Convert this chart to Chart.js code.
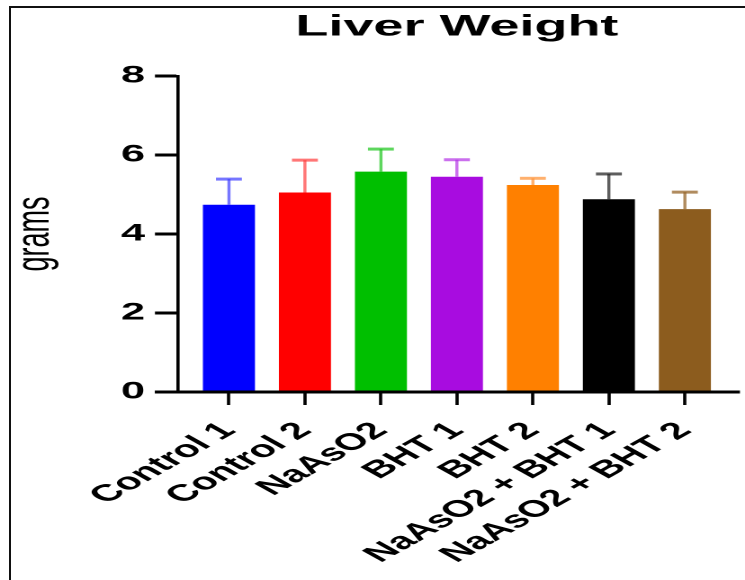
<!DOCTYPE html>
<html>
<head>
<meta charset="utf-8">
<script src="https://cdn.jsdelivr.net/npm/chart.js@4.4.1/dist/chart.umd.min.js"></script>
<style>
    html, body { margin: 0; padding: 0; background: #fff; }
    #page { position: relative; width: 745px; height: 580px; overflow: hidden; }
    #frame {
        position: absolute; left: 9px; top: 6px; right: -10px; bottom: -10px;
        border-left: 2px solid #111; border-top: 2px solid #111;
    }
    /* the source picture is stretched sideways, so the chart is drawn narrow and widened */
    #wrap { position: absolute; left: 0; top: 0; width: 414px; height: 580px; transform: scaleX(1.7995); transform-origin: 0 0; }
</style>
</head>
<body>
<div id="page">
    <div id="frame"></div>
    <div id="wrap"><canvas id="liverChart" width="414" height="580"></canvas></div>
</div>
<script>
// data
const categories = ['Control 1', 'Control 2', 'NaAsO2', 'BHT 1', 'BHT 2', 'NaAsO2 + BHT 1', 'NaAsO2 + BHT 2'];
const means = [4.74, 5.05, 5.58, 5.45, 5.24, 4.88, 4.63];
const errors = [0.65, 0.82, 0.57, 0.43, 0.17, 0.64, 0.43];
const yTicks = [0, 2, 4, 6, 8];
const barColors = ['#0000ff', '#ff0000', '#00bf00', '#a80ce0', '#ff8000', '#000000', '#8c5c1e'];
const errColors = ['rgba(60,60,255,0.7)', 'rgba(255,60,60,0.7)', 'rgba(40,200,40,0.75)', 'rgba(180,50,230,0.7)',
                   'rgba(255,150,60,0.75)', 'rgba(40,40,40,0.75)', 'rgba(150,100,40,0.75)'];

const FONT = "'Liberation Sans', Arial, sans-serif";

// error bars (mean + SD) drawn through the chart's scales
const errorBars = {
    id: 'errorBars',
    afterDatasetsDraw(chart) {
        const { ctx, scales: { x, y } } = chart;
        ctx.save();
        means.forEach((m, i) => {
            const cx = x.getPixelForValue(i);
            const yBar = y.getPixelForValue(m);
            const yTop = y.getPixelForValue(m + errors[i]);
            ctx.strokeStyle = errColors[i];
            ctx.lineWidth = 1.7;
            ctx.beginPath();
            ctx.moveTo(cx, yBar);
            ctx.lineTo(cx, yTop);
            ctx.stroke();
            ctx.lineWidth = 3;
            ctx.beginPath();
            ctx.moveTo(cx - 7.2, yTop);
            ctx.lineTo(cx + 7.2, yTop);
            ctx.stroke();
        });
        ctx.restore();
    }
};

// x axis baseline, which runs a bit past the bars on both sides
const baseLine = {
    id: 'baseLine',
    afterDatasetsDraw(chart) {
        const { ctx, chartArea, scales: { y } } = chart;
        const y0 = y.getPixelForValue(0);
        ctx.save();
        ctx.strokeStyle = '#000';
        ctx.lineWidth = 3;
        ctx.beginPath();
        ctx.moveTo(y.right - y.options.grid.tickLength, y0);
        ctx.lineTo(chartArea.right + 9.5, y0);
        ctx.stroke();
        ctx.restore();
    }
};

new Chart(document.getElementById('liverChart'), {
    type: 'bar',
    data: {
        labels: categories,
        datasets: [{
            data: means,
            yAxisID: 'y',
            backgroundColor: barColors,
            borderWidth: 0,
            barPercentage: 0.685,
            categoryPercentage: 1.0
        }]
    },
    options: {
        responsive: false,
        animation: false,
        devicePixelRatio: 2,
        layout: { padding: { left: 0, right: 12.3, top: 0, bottom: 0 } },
        plugins: {
            legend: { display: false },
            tooltip: { enabled: false },
            title: {
                display: true,
                text: 'Liver Weight',
                fullSize: false,
                color: '#000',
                font: { family: FONT, size: 30, weight: 'bold' },
                padding: { top: 9, bottom: 31 }
            }
        },
        scales: {
            x: {
                type: 'category',
                offset: true,
                afterFit: (s) => { s.height = 188; },
                border: { display: false },
                grid: {
                    display: true, drawOnChartArea: false, offset: false,
                    tickLength: 13, tickWidth: 1.8, tickColor: '#000'
                },
                ticks: {
                    autoSkip: false, maxRotation: 45, minRotation: 45, padding: 12,
                    color: '#000',
                    font: { family: FONT, size: 23.5, weight: 'bold' }
                }
            },
            gap: {
                type: 'linear', axis: 'y', position: 'left', weight: 0,
                afterFit: (s) => { s.width = 7.2; },
                ticks: { display: false },
                grid: { display: false },
                border: { display: false }
            },
            y: {
                type: 'linear', position: 'left', weight: 1,
                min: 0, max: 8,
                afterFit: (s) => { s.width = 98.9; },
                afterBuildTicks: (s) => { s.ticks = yTicks.map(v => ({ value: v })); },
                border: { display: true, color: '#000', width: 1.8 },
                grid: {
                    display: true, drawOnChartArea: false,
                    tickLength: 12.8, tickWidth: 3, tickColor: '#000'
                },
                ticks: {
                    padding: 5.5, color: '#000',
                    font: { family: FONT, size: 24, weight: 'bold' }
                },
                title: {
                    display: true, text: 'grams', color: '#000',
                    font: { family: FONT, size: 27 },
                    padding: { top: 3.5, bottom: 0 }
                }
            }
        }
    },
    plugins: [errorBars, baseLine]
});
</script>
</body>
</html>
